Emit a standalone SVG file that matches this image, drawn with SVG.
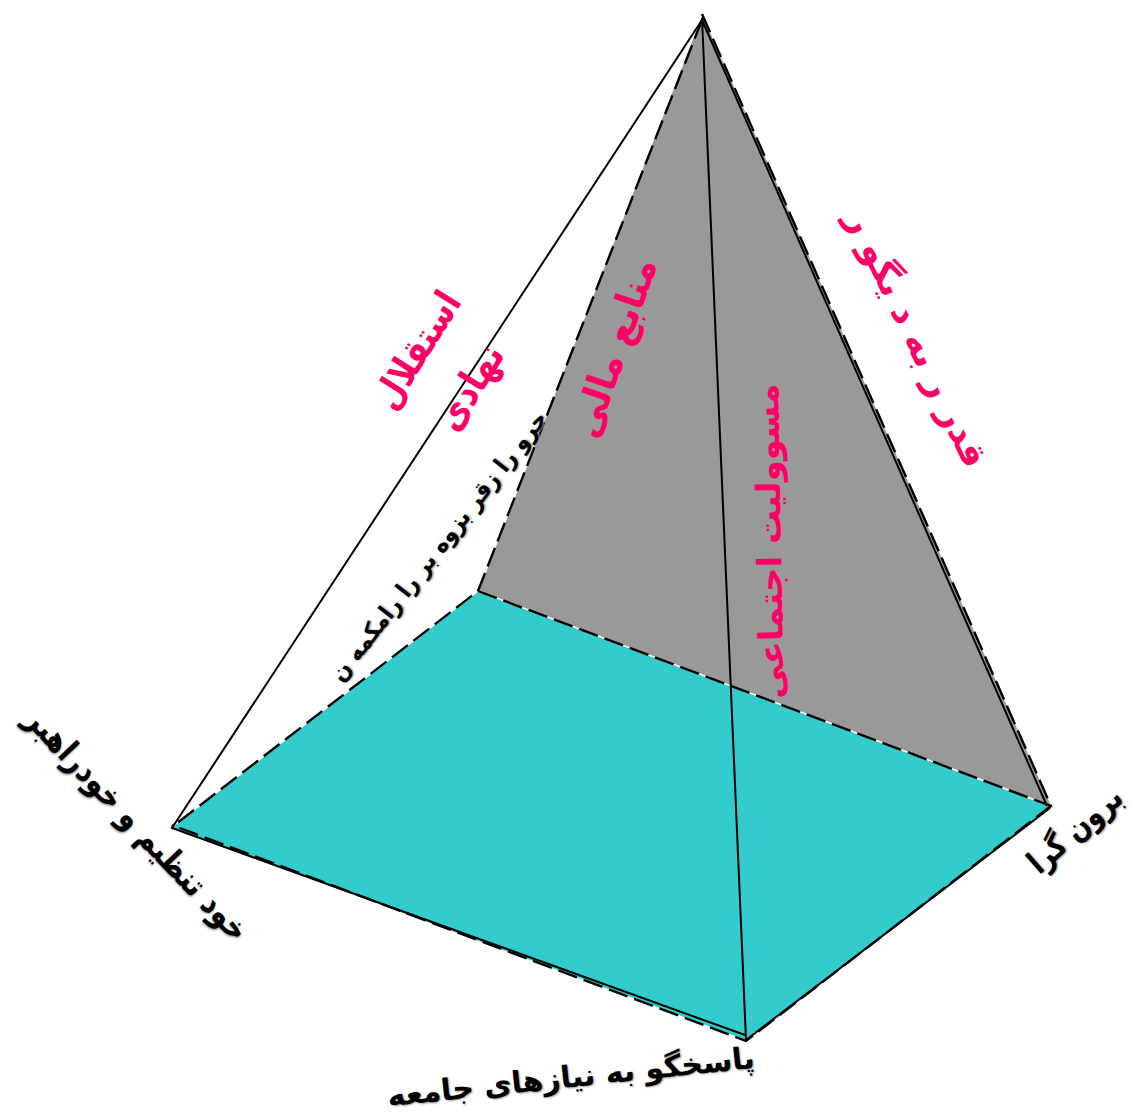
<svg xmlns="http://www.w3.org/2000/svg" width="1132" height="1115" viewBox="0 0 1132 1115">
<style>
text{font-family:"DejaVu Sans",sans-serif;font-weight:bold;text-anchor:middle;direction:rtl}
.k{fill:#000;text-shadow:1px 1px 2px #999}
.p{fill:#ff0066}
.s{fill:none;stroke:#000;stroke-width:2}
.d{fill:none;stroke:#000;stroke-width:2.4;stroke-dasharray:20 7}
.w{fill:none;stroke:#fff;stroke-width:1.5}
</style>
<rect width="1132" height="1115" fill="#fff"/>
<g id="face-back"><polygon points="702,14 478,591 1051,806" fill="#999"/></g>
<g id="face-base"><polygon points="172,827 478,591 1051,806 746,1040" fill="#3cc"/></g>
<g id="connectors">
<path class="w" d="M702,14L478,591L172,827M478,591L1051,806"/>
<path class="d" d="M702,20L478,591L172,827M478,591L1051,806"/>
<path class="d" d="M702,14L1051,806L746,1041L172,825"/>
<path class="s" d="M702,20L172,828L745,1035M702,18L746,1040L1050,808M702,20L1047,806"/>
</g>
<g id="label-left"><text class="k" font-size="28" transform="translate(129,832) rotate(46.5) scale(1,1.2)">خود تنظیم و خودراهبر</text></g>
<g id="label-bottom"><text class="k" font-size="30" transform="translate(572,1087) rotate(-6)">پاسخگو به نیازهای جامعه</text></g>
<g id="label-right"><text class="k" font-size="26" transform="translate(1082,838) rotate(-41) scale(1,1.25)">برون گرا</text></g>
<g id="label-edge"><text class="k" font-size="20" transform="translate(445,551) rotate(-52) scale(1.08,1.2)">حرو را زقر بزوه بر را رامکمه ن</text></g>
<g id="label-independence"><text class="p" font-size="32" transform="translate(428,357) rotate(-58) scale(1,1.2)">استقلال</text><text class="p" font-size="33" transform="translate(481,394) rotate(-58) scale(1,1.2)">نهادی</text></g>
<g id="label-finance"><text class="p" font-size="36" transform="translate(627,352) rotate(-71) scale(1,1.1)">منابع مالی</text></g>
<g id="label-social"><text class="p" font-size="32" transform="translate(781,541) rotate(-91) scale(1.06,1.05)">مسوولیت اجتماعی</text></g>
<g id="label-power"><text class="p" font-size="36" transform="translate(906,344) rotate(64.5)">قدر ر به د یگو ر</text></g>
</svg>
